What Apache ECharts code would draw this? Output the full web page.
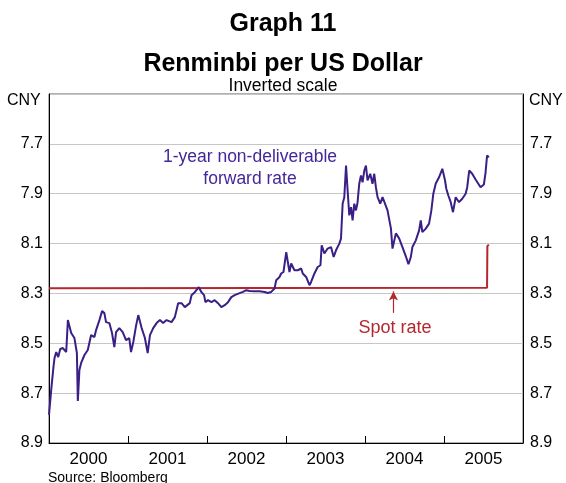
<!DOCTYPE html>
<html><head><meta charset="utf-8">
<script src="https://cdn.jsdelivr.net/npm/echarts@6/dist/echarts.min.js"></script>
<style>html,body{margin:0;padding:0;background:#fff}#c{width:566px;height:483px}</style>
</head><body><div id="c"></div>
<script>
// Year categories (x axis labels)
const years = ['2000','2001','2002','2003','2004','2005'];
// y tick labels (inverted scale)
const yTickLabels = ['7.7','7.9','8.1','8.3','8.5','8.7','8.9'];
// 1-year NDF rate: dates (decimal years) and values (CNY per USD)
const ndfDates = [2000.000,2000.028,2000.057,2000.070,2000.091,2000.117,2000.142,2000.176,2000.218,2000.239,2000.259,2000.281,2000.322,2000.353,2000.365,2000.385,2000.407,2000.449,2000.491,2000.533,2000.575,2000.596,2000.638,2000.672,2000.701,2000.722,2000.764,2000.798,2000.827,2000.849,2000.890,2000.933,2000.975,2001.016,2001.038,2001.067,2001.101,2001.130,2001.173,2001.214,2001.249,2001.278,2001.319,2001.362,2001.404,2001.445,2001.488,2001.551,2001.593,2001.635,2001.678,2001.719,2001.782,2001.804,2001.845,2001.896,2001.930,2001.963,2001.980,2002.013,2002.056,2002.098,2002.139,2002.182,2002.224,2002.266,2002.308,2002.350,2002.413,2002.455,2002.498,2002.539,2002.602,2002.666,2002.729,2002.770,2002.813,2002.855,2002.876,2002.897,2002.918,2002.939,2002.968,2003.003,2003.023,2003.044,2003.066,2003.107,2003.149,2003.192,2003.212,2003.255,2003.297,2003.318,2003.360,2003.401,2003.436,2003.452,2003.486,2003.527,2003.570,2003.603,2003.633,2003.675,2003.696,2003.717,2003.738,2003.760,2003.780,2003.801,2003.823,2003.843,2003.864,2003.886,2003.906,2003.927,2003.949,2003.969,2003.991,2004.012,2004.032,2004.066,2004.095,2004.117,2004.138,2004.159,2004.193,2004.222,2004.243,2004.285,2004.328,2004.348,2004.391,2004.432,2004.474,2004.517,2004.550,2004.580,2004.600,2004.643,2004.685,2004.706,2004.726,2004.769,2004.811,2004.840,2004.865,2004.895,2004.937,2004.979,2005.013,2005.029,2005.055,2005.085,2005.114,2005.148,2005.190,2005.231,2005.274,2005.294,2005.319,2005.357,2005.400,2005.463,2005.505,2005.526,2005.545,2005.568];
const ndfValues = [8.787,8.687,8.594,8.559,8.535,8.555,8.523,8.519,8.535,8.407,8.399,8.459,8.479,8.539,8.731,8.607,8.579,8.547,8.527,8.467,8.475,8.447,8.407,8.371,8.379,8.415,8.419,8.459,8.515,8.455,8.439,8.455,8.487,8.479,8.535,8.495,8.431,8.387,8.439,8.479,8.539,8.467,8.439,8.419,8.407,8.419,8.407,8.415,8.395,8.339,8.339,8.355,8.339,8.307,8.295,8.275,8.295,8.307,8.335,8.327,8.335,8.327,8.339,8.355,8.347,8.335,8.315,8.307,8.299,8.294,8.287,8.290,8.291,8.291,8.294,8.298,8.294,8.280,8.247,8.240,8.234,8.220,8.214,8.134,8.174,8.214,8.180,8.207,8.207,8.200,8.220,8.234,8.267,8.254,8.220,8.194,8.187,8.107,8.140,8.120,8.114,8.154,8.127,8.100,8.080,7.940,7.914,7.787,7.887,7.987,7.954,8.007,7.940,7.967,7.934,7.860,7.827,7.854,7.807,7.787,7.847,7.820,7.860,7.820,7.874,7.914,7.940,7.914,7.919,7.967,8.039,8.120,8.059,8.079,8.114,8.151,8.183,8.154,8.114,8.087,8.047,8.007,8.054,8.040,8.020,7.967,7.900,7.860,7.834,7.800,7.847,7.880,7.907,7.934,7.974,7.914,7.934,7.920,7.900,7.874,7.807,7.820,7.843,7.874,7.863,7.815,7.747,7.754];
// Spot rate
const spotDates = [2000.000, 2005.545, 2005.549, 2005.568];
const spotValues = [8.279, 8.277, 8.110, 8.105];

const Y_TOP = 7.5;   // top of inverted scale
const Y_BOTTOM = 8.9;
const shift = v => +(v - Y_TOP).toFixed(4);

const FONT = 'Liberation Sans, Arial, Helvetica, sans-serif';
const PURPLE = '#3a1f86';
const RED = '#b3282f';

const chart = echarts.init(document.getElementById('c'), null, {renderer: 'canvas'});
const yAxisBase = {
  type: 'value', inverse: true, min: 0, max: +(Y_BOTTOM - Y_TOP).toFixed(1), interval: 0.2,
  axisLine: {show: true, onZero: false, lineStyle: {color: '#000', width: 1}},
  axisTick: {show: false},
  axisLabel: {
    fontFamily: FONT, fontSize: 16, color: '#000',
    formatter: v => { const s = (v + Y_TOP).toFixed(1); return yTickLabels.includes(s) ? s : ''; }
  }
};
chart.setOption({
  animation: false,
  grid: {left: 49, right: 43, top: 94, bottom: 40, show: true, borderColor: '#606060', borderWidth: 1},
  title: [
    {text: 'Graph 11', left: 'center', top: 7, textStyle: {fontFamily: FONT, fontSize: 25, fontWeight: 'bold', color: '#000'}},
    {text: 'Renminbi per US Dollar', left: 'center', top: 47, textStyle: {fontFamily: FONT, fontSize: 25, fontWeight: 'bold', color: '#000'}},
    {text: 'Inverted scale', left: 'center', top: 72, textStyle: {fontFamily: FONT, fontSize: 17.5, fontWeight: 'normal', color: '#000'}}
  ],
  xAxis: [
    {type: 'value', min: 2000, max: 2006, interval: 1, position: 'bottom',
     axisLine: {show: true, onZero: false, lineStyle: {color: '#000', width: 1}},
     axisTick: {show: true, inside: true, length: 7, lineStyle: {color: '#000'}},
     axisLabel: {show: false},
     splitLine: {show: false}},
    {type: 'category', data: years, boundaryGap: true, position: 'bottom', offset: 0,
     axisLine: {show: false, onZero: false},
     axisTick: {show: false},
     axisLabel: {fontFamily: FONT, fontSize: 17, color: '#000', margin: 8},
     splitLine: {show: false}}
  ],
  yAxis: [
    Object.assign({}, yAxisBase, {position: 'left', splitLine: {show: true, lineStyle: {color: '#c6c6c6', width: 1}},
      axisLabel: Object.assign({}, yAxisBase.axisLabel, {margin: 6})}),
    Object.assign({}, yAxisBase, {position: 'right', splitLine: {show: false},
      axisLabel: Object.assign({}, yAxisBase.axisLabel, {margin: 7})})
  ],
  series: [
    {type: 'line', name: 'Spot rate', xAxisIndex: 0, yAxisIndex: 0, showSymbol: false,
     lineStyle: {color: RED, width: 2}, z: 3,
     data: spotDates.map((d, i) => [d, shift(spotValues[i])]),
     markLine: {silent: true, symbol: ['none', 'arrow'], symbolSize: [7, 9],
       lineStyle: {color: RED, width: 1.2, type: 'solid'}, label: {show: false},
       data: [[{coord: [2004.36, shift(8.378)]}, {coord: [2004.36, shift(8.292)]}]]}},
    {type: 'line', name: 'NDF', xAxisIndex: 0, yAxisIndex: 0, showSymbol: false,
     lineStyle: {color: PURPLE, width: 2}, z: 4,
     data: ndfDates.map((d, i) => [d, shift(ndfValues[i])])}
  ],
  graphic: [
    {type: 'text', left: 7, top: 93, style: {text: 'CNY', font: '16px ' + FONT, fill: '#000'}},
    {type: 'text', left: 529, top: 93, style: {text: 'CNY', font: '16px ' + FONT, fill: '#000'}},
    {type: 'text', x: 250, y: 157, style: {text: '1-year non-deliverable', font: '17.5px ' + FONT, fill: '#43279a', align: 'center', verticalAlign: 'middle'}},
    {type: 'text', x: 250, y: 179, style: {text: 'forward rate', font: '17.5px ' + FONT, fill: '#43279a', align: 'center', verticalAlign: 'middle'}},
    {type: 'text', x: 395, y: 328, style: {text: 'Spot rate', font: '18px ' + FONT, fill: RED, align: 'center', verticalAlign: 'middle'}},
    {type: 'text', left: 48, top: 471, style: {text: 'Source: Bloomberg', font: '14px ' + FONT, fill: '#000'}}
  ]
});
</script></body></html>
